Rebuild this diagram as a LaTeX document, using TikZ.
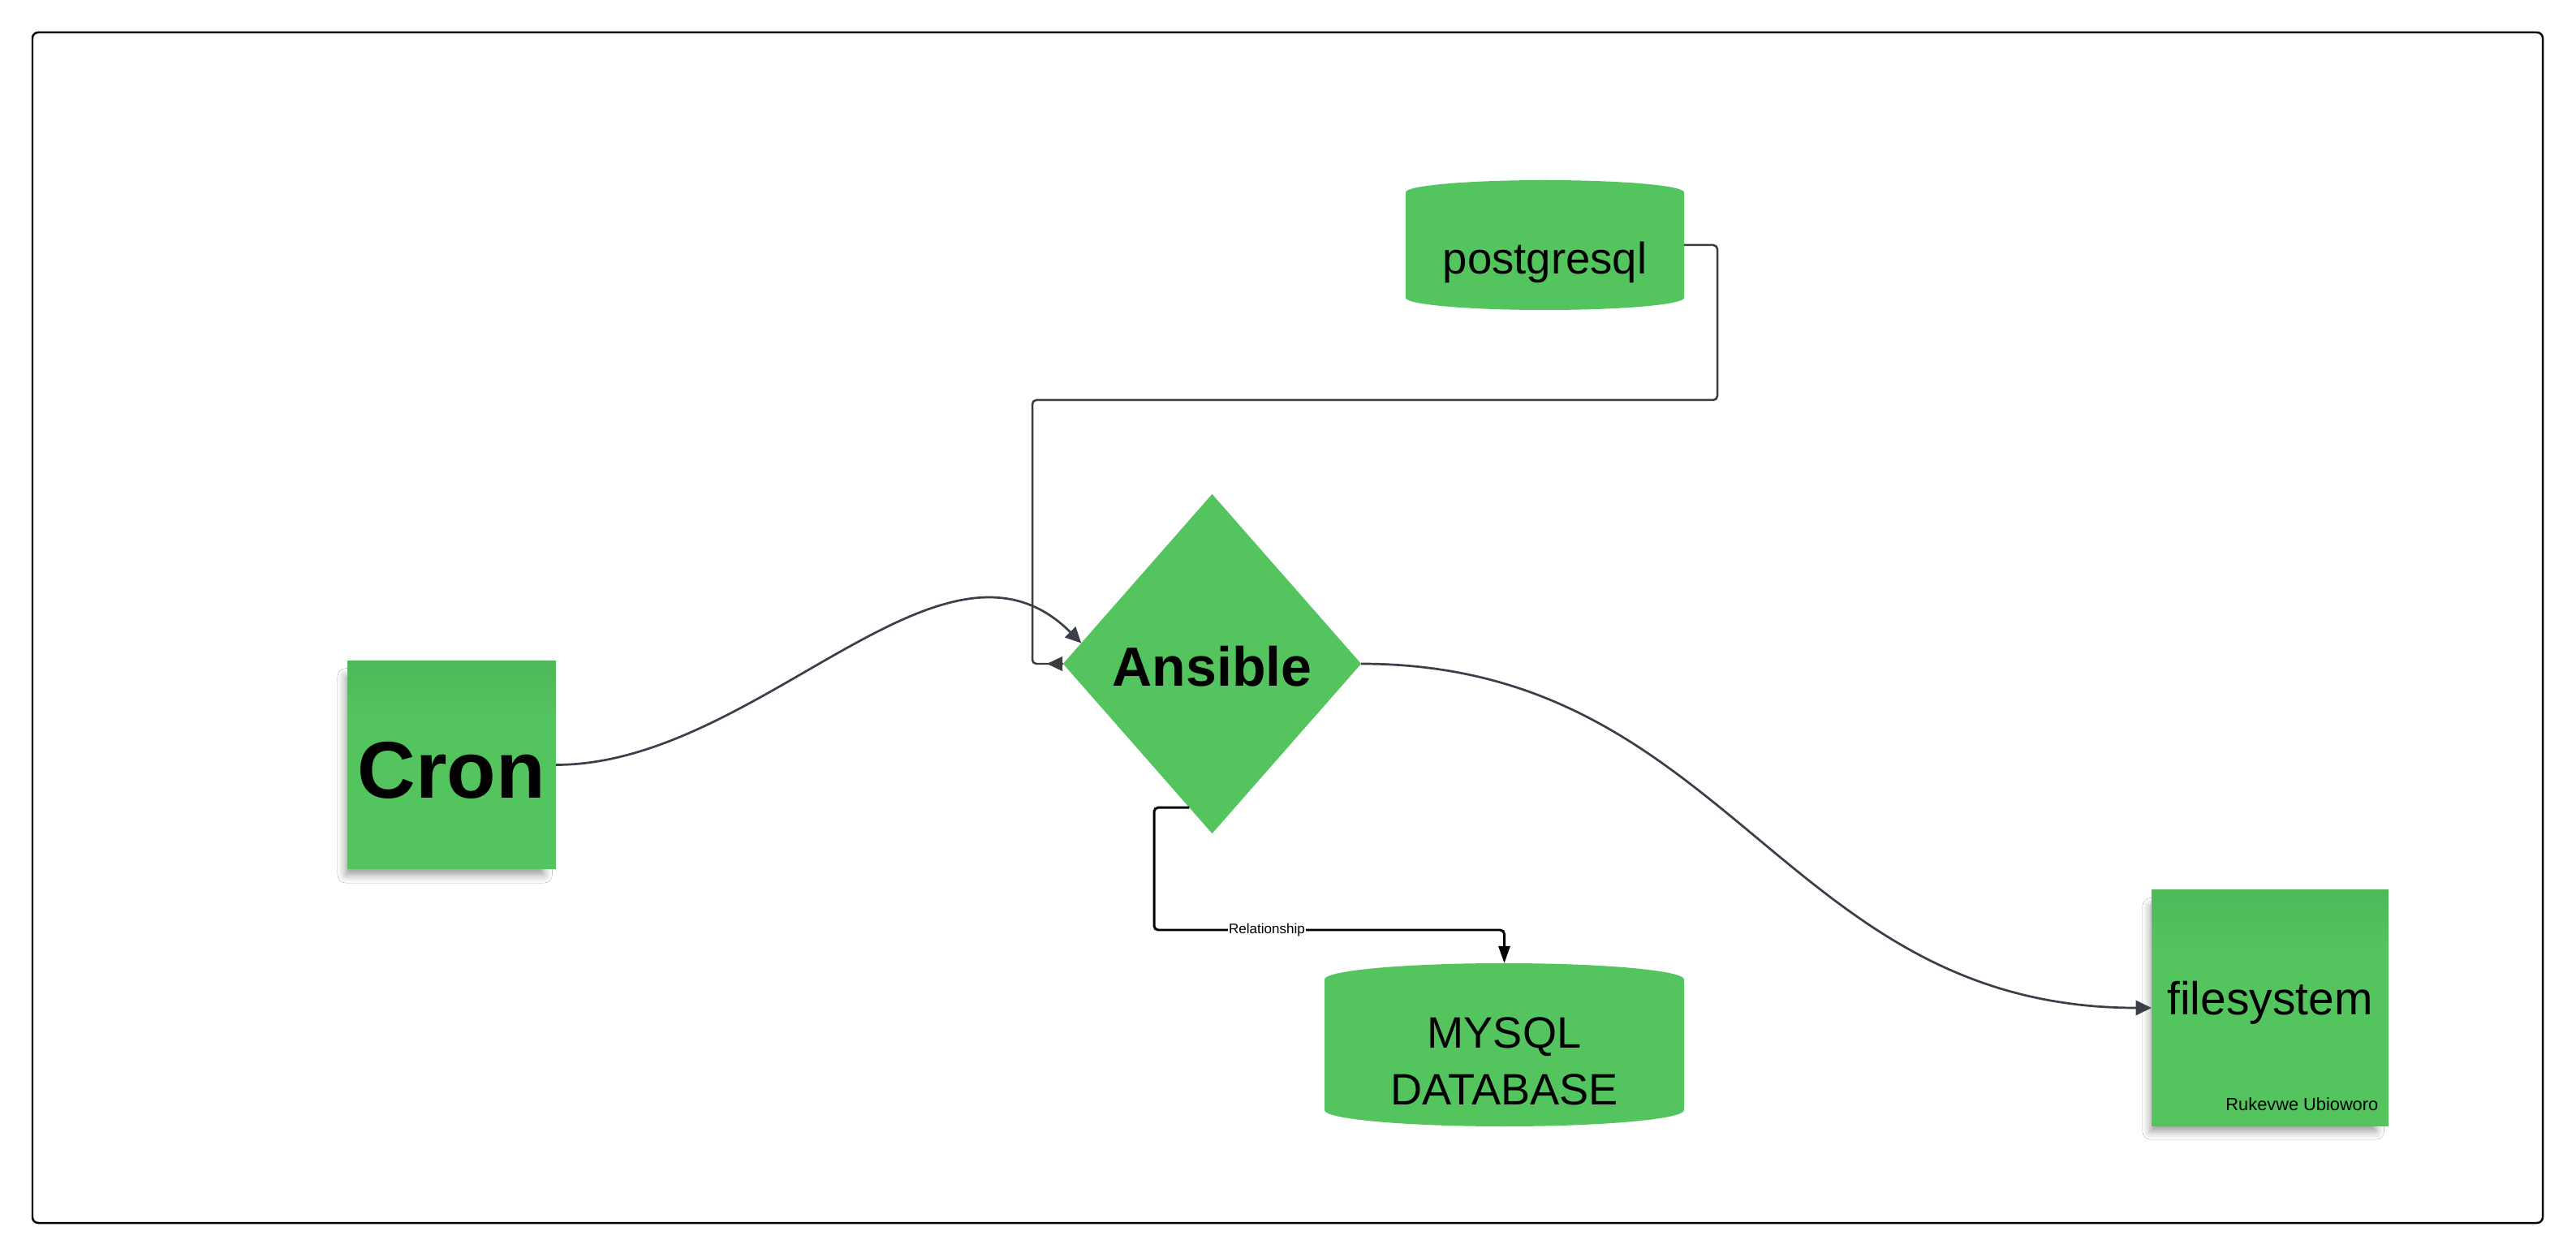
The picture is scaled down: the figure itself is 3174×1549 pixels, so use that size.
\documentclass[tikz,border=0pt]{standalone}
\usepackage{fontspec}
\setmainfont{Liberation Sans}
\usetikzlibrary{shapes.geometric,arrows.meta,shadows.blur,calc}
\definecolor{notegreen}{HTML}{54C45E}
\definecolor{notetop}{HTML}{4DB959}
\definecolor{curvecol}{HTML}{3A3F4A}
\definecolor{pgcol}{HTML}{3C3C3C}
\newcommand{\cylfill}[5]{%
  \fill[notegreen] ({#1},{#3+#5}) .. controls ({#1},{#3+#5-0.5523*#5}) and ({(#1+#2)/2-0.5523*(#2-#1)/2},{#3}) .. ({(#1+#2)/2},{#3})
   .. controls ({(#1+#2)/2+0.5523*(#2-#1)/2},{#3}) and ({#2},{#3+#5-0.5523*#5}) .. ({#2},{#3+#5})
   -- ({#2},{#4-#5}) .. controls ({#2},{#4-#5+0.5523*#5}) and ({(#1+#2)/2+0.5523*(#2-#1)/2},{#4}) .. ({(#1+#2)/2},{#4})
   .. controls ({(#1+#2)/2-0.5523*(#2-#1)/2},{#4}) and ({#1},{#4-#5+0.5523*#5}) .. ({#1},{#4-#5}) -- cycle;}
\begin{document}
\begin{tikzpicture}[x=0.01cm,y=-0.01cm,
  sticky/.style={rectangle, fill=notegreen, inner sep=0pt, outer sep=0pt,
    blur shadow={shadow xshift=-2.5pt, shadow yshift=-4pt, shadow scale=0.95,
      shadow blur radius=3pt, shadow opacity=40},
    path picture={\foreach \i in {0,...,13} {%
        \pgfmathtruncatemacro\pc{100-\i*100/14}%
        \fill[notetop!\pc!notegreen] ([yshift=-\i*0.05cm]path picture bounding box.north west)
          rectangle ([yshift=-\i*0.05cm-0.06cm]path picture bounding box.north east);}}},
  anchorbox/.style={rectangle, inner sep=0pt, outer sep=0pt},
  curve/.style={draw=curvecol, line width=0.77pt},
  pgline/.style={draw=pgcol, line width=0.71pt},
  myline/.style={draw=black, line width=0.85pt},
  tipA/.style={-{Triangle[length=5.5pt,width=5.2pt]}},
]
\useasboundingbox (0,0) rectangle (3174,1549);
\fill[white] (0,0) rectangle (3174,1549);
% frame
\draw[black, line width=0.71pt, rounded corners=0.07cm] (40,40) rectangle (3133,1507);

% cylinders
\cylfill{1732}{2075}{222}{382}{15}
\cylfill{1632}{2075}{1187}{1388}{20}

% nodes
\node[anchorbox, minimum width=3.43cm, minimum height=1.6cm, text height=0.7cm, text depth=0pt,
  font=\fontsize{15.5pt}{18pt}\selectfont] (pg) at (1903.5,302) {postgresql};
\node[anchorbox, minimum width=4.43cm, minimum height=2.01cm] (mysql) at (1853.5,1287.5) {};
\node[align=center, inner sep=0pt, font=\fontsize{15.4pt}{19.9pt}\selectfont] (mysqltext) at (1853.5,1308) {MYSQL\\DATABASE};

\node[sticky, minimum width=2.57cm, minimum height=2.57cm, text height=0.81cm, text depth=0pt,
  font=\bfseries\fontsize{28.2pt}{32pt}\selectfont] (cron) at (556.5,942.5) {Cron};

\node[diamond, fill=notegreen, inner sep=0pt, outer sep=0pt, minimum width=3.67cm, minimum height=4.18cm,
  text height=0.554cm, text depth=0pt, font=\bfseries\fontsize{19.35pt}{22pt}\selectfont] (ansible) at (1493.5,818) {Ansible};

\node[sticky, minimum width=2.92cm, minimum height=2.92cm, text height=0.16cm, text depth=0pt,
  font=\fontsize{16.2pt}{19pt}\selectfont] (fs) at (2797,1242) {filesystem};
\node[anchor=base east, inner sep=0pt, font=\fontsize{6.2pt}{7.5pt}\selectfont] (author) at (2931,1368) {Rukevwe Ubioworo};

% connectors
\draw[curve, tipA] (cron.east) .. controls +(250,0) and +(-170,-170) .. (ansible.171);
\draw[curve, tipA] (ansible.east) .. controls +(455,0) and +(-455,0) .. (fs.west);
\draw[pgline, rounded corners=0.05cm] (pg.east) -- (2116,302) -- (2116,493) -- (1272,493) -- (1272,818) -- (ansible.west);
\draw[pgline, -{Triangle[length=5.5pt,width=5pt]}] (ansible.west) -- ++(-20,0);
\draw[myline, rounded corners=0.05cm, -{Triangle[length=6pt,width=4pt]}] (ansible.261) -| (1422,1146) -| (mysql.north);
\node[fill=white, inner sep=0.3pt, font=\fontsize{4.85pt}{6pt}\selectfont] (rel) at (1561,1146) {Relationship};
\end{tikzpicture}
\end{document}
